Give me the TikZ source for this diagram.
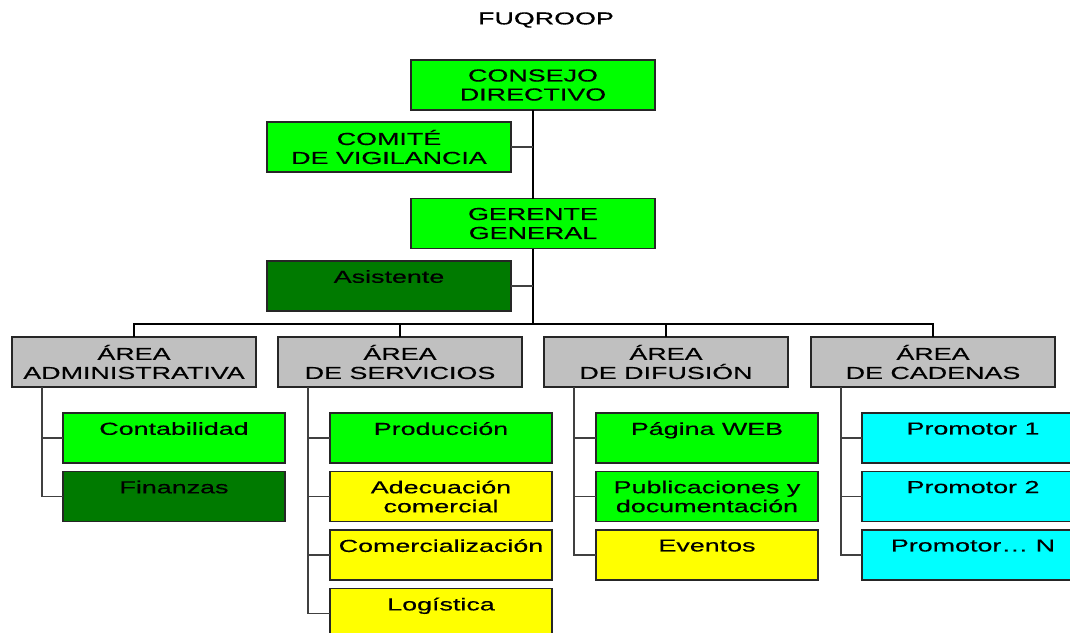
\documentclass[tikz,border=0pt]{standalone}
\usepackage{fontspec}
\setmainfont[FakeStretch=1.55, FakeBold=0.4]{Liberation Sans}
\usetikzlibrary{calc}

\definecolor{VerdeClaro}{RGB}{0,255,0}
\definecolor{VerdeOscuro}{RGB}{0,122,0}
\definecolor{GrisArea}{RGB}{192,192,192}
\definecolor{Amarillo}{RGB}{255,255,0}
\definecolor{Cian}{RGB}{0,255,255}

\tikzset{
    caja/.style={draw=black!85, line width=1.3pt, inner sep=0pt, outer sep=0pt,
        minimum width=183pt, minimum height=37.5pt, align=center,
        font=\fontsize{13}{14.25}\selectfont},
    subcaja/.style={caja, minimum width=166.5pt},
    linea/.style={draw=black, line width=1.4pt},
    rama/.style={draw=black!75, line width=1.2pt}
}

\begin{document}
\begin{tikzpicture}[x=0.75pt, y=-0.75pt]

\useasboundingbox (0,0) rectangle (1070,632);

\node[font=\fontsize{13}{14.25}\selectfont] (titulo) at (546,20) {FUQROOP};

% Nivel directivo
\node[caja, fill=VerdeClaro] (consejo) at (533,85) {CONSEJO\\DIRECTIVO};
\node[caja, fill=VerdeClaro] (comite) at (389,147) {COMITÉ\\DE VIGILANCIA};
\node[caja, fill=VerdeClaro] (gerente) at (533,223.5) {GERENTE\\GENERAL};
\node[caja, fill=VerdeOscuro] (asistente) at (389,286) {Asistente\\~};

\coordinate (barra) at (533,324);

\draw[linea] (consejo.south) -- (gerente.north);
\draw[rama] (comite.east) -- (comite.east -| consejo.south);
\draw[linea] (gerente.south) -- (barra);
\draw[rama] (asistente.east) -- (asistente.east -| gerente.south);

% Areas
\node[caja, fill=GrisArea] (admin) at (134,362) {ÁREA\\ADMINISTRATIVA};
\node[caja, fill=GrisArea] (servicios) at (400,362) {ÁREA\\DE SERVICIOS};
\node[caja, fill=GrisArea] (difusion) at (666,362) {ÁREA\\DE DIFUSIÓN};
\node[caja, fill=GrisArea] (cadenas) at (933,362) {ÁREA\\DE CADENAS};

\draw[linea] (admin.north) |- (barra) -| (cadenas.north);
\draw[linea] (servicios.north) -- (servicios.north |- barra);
\draw[linea] (difusion.north) -- (difusion.north |- barra);

% Area administrativa
\node[subcaja, fill=VerdeClaro] (conta) at (174,438) {Contabilidad\\~};
\node[subcaja, fill=VerdeOscuro] (finanzas) at (174,496.5) {Finanzas\\~};

\coordinate (eadmin) at ($(admin.south west)+(30,0)$);
\draw[rama] (eadmin) |- (conta.west);
\draw[rama] (eadmin) |- (finanzas.west);

% Area de servicios
\node[subcaja, fill=VerdeClaro] (produccion) at (441,438) {Producción\\~};
\node[subcaja, fill=Amarillo] (adecuacion) at (441,496.5) {Adecuación\\comercial};
\node[subcaja, fill=Amarillo] (comercial) at (441,555) {Comercialización\\~};
\node[subcaja, fill=Amarillo] (logistica) at (441,613.5) {Logística\\~};

\coordinate (eserv) at ($(servicios.south west)+(30,0)$);
\draw[rama] (eserv) |- (produccion.west);
\draw[rama] (eserv) |- (adecuacion.west);
\draw[rama] (eserv) |- (comercial.west);
\draw[rama] (eserv) |- (logistica.west);

% Area de difusion
\node[subcaja, fill=VerdeClaro] (web) at (707,438) {Página WEB\\~};
\node[subcaja, fill=VerdeClaro] (publica) at (707,496.5) {Publicaciones y\\documentación};
\node[subcaja, fill=Amarillo] (eventos) at (707,555) {Eventos\\~};

\coordinate (edif) at ($(difusion.south west)+(30,0)$);
\draw[rama] (edif) |- (web.west);
\draw[rama] (edif) |- (publica.west);
\draw[rama] (edif) |- (eventos.west);

% Area de cadenas
\node[subcaja, fill=Cian] (prom1) at (973,438) {Promotor 1\\~};
\node[subcaja, fill=Cian] (prom2) at (973,496.5) {Promotor 2\\~};
\node[subcaja, fill=Cian] (promn) at (973,555) {Promotor\dots\ N\\~};

\coordinate (ecad) at ($(cadenas.south west)+(30,0)$);
\draw[rama] (ecad) |- (prom1.west);
\draw[rama] (ecad) |- (prom2.west);
\draw[rama] (ecad) |- (promn.west);

\end{tikzpicture}
\end{document}
